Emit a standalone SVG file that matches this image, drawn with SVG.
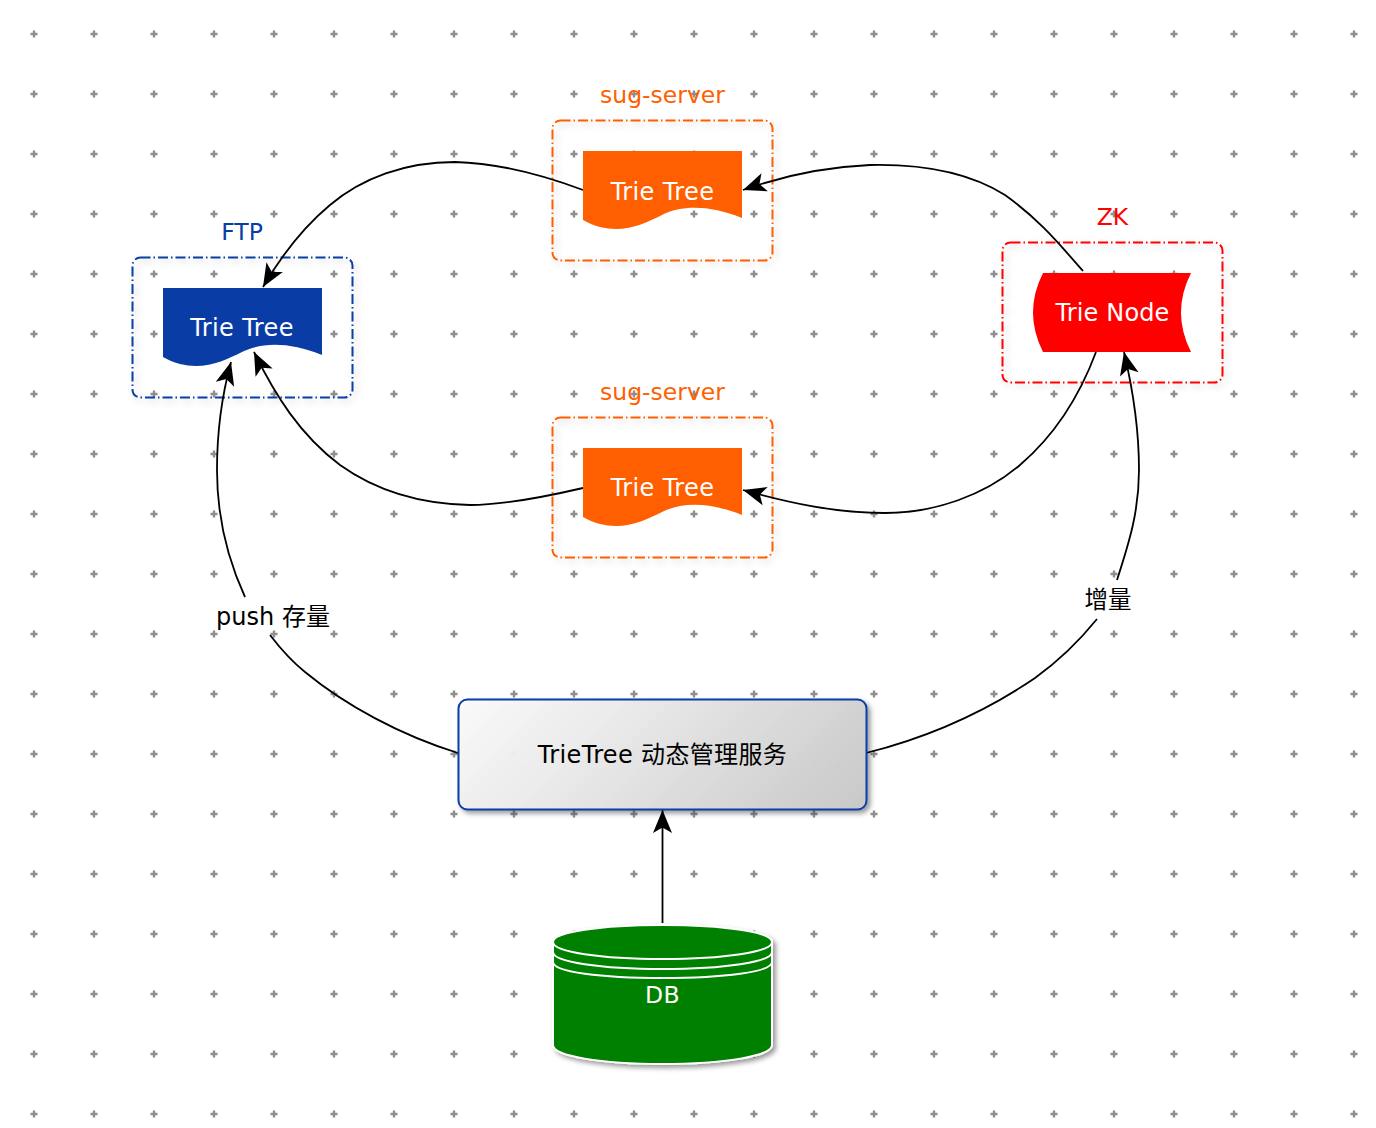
<svg xmlns="http://www.w3.org/2000/svg" width="1376" height="1128" viewBox="0 0 1376 1128">
<style>
text{font-family:"DejaVu Sans","Noto Sans CJK SC",sans-serif;font-size:24px;text-anchor:middle}
.w{fill:#fff;letter-spacing:.4px}
.s{font-size:23.5px}
.c{fill:none;stroke:#000;stroke-width:1.8}
.g{fill:none;stroke-width:2;stroke-dasharray:10 3 1.500 3;filter:url(#gs)}
.ring{fill:none;stroke:#fff;stroke-width:2}
</style>
<defs>
<pattern id="grid" width="60" height="60" patternUnits="userSpaceOnUse">
<path d="M30.500 34H37.500M34 30.500V37.500" stroke="#8f8f8f" stroke-width="2.400" fill="none"/>
</pattern>
<linearGradient id="boxg" gradientUnits="userSpaceOnUse" x1="533" y1="625" x2="792" y2="884"><stop offset="0" stop-color="#fcfcfc" stop-opacity=".95"/><stop offset="1" stop-color="#c8c8c8"/></linearGradient>
<filter id="gs" x="-10%" y="-10%" width="125%" height="125%"><feDropShadow dx="3" dy="3" stdDeviation="3.500" flood-color="#000" flood-opacity=".2"/></filter>
<filter id="ns" x="-10%" y="-10%" width="125%" height="125%"><feDropShadow dx="3" dy="3" stdDeviation="2.500" flood-color="#000" flood-opacity=".4"/></filter>
<marker id="arr" markerUnits="userSpaceOnUse" markerWidth="26" markerHeight="24" refX="24" refY="12" orient="auto"><path d="M24 12L1 2.500L6.500 12L1 21.500Z" fill="#000"/></marker>
</defs>
<rect width="1376" height="1128" fill="#fff"/>
<rect width="1376" height="1128" fill="url(#grid)"/>
<g id="group-ftp">
<rect class="g" x="132.500" y="257.500" width="220" height="140" rx="8" stroke="#0a3ca6"/>
<text class="s" x="242" y="240" fill="#0a3ca6">FTP</text>
</g>
<g id="group-sug1">
<rect class="g" x="552.500" y="120.500" width="220" height="140" rx="8" stroke="#ff5f00"/>
<text class="s" x="662.500" y="103" fill="#ff5f00">sug-server</text>
</g>
<g id="group-sug2">
<rect class="g" x="552.500" y="417.500" width="220" height="140" rx="8" stroke="#ff5f00"/>
<text class="s" x="662.500" y="400" fill="#ff5f00">sug-server</text>
</g>
<g id="group-zk">
<rect class="g" x="1002.500" y="242.500" width="220" height="140" rx="8" stroke="#ff0000"/>
<text class="s" x="1112.500" y="225" fill="#ff0000">ZK</text>
</g>
<g id="connectors">
<path class="c" marker-end="url(#arr)" d="M583 190C535 172 495 163 455 162C405 162 362 178 330 205C300 230 280 258 263 287"/>
<path class="c" marker-end="url(#arr)" d="M1083 271C1060 245 1040 220 1005 195C965 170 915 164 870 165C825 167 785 175 743 190"/>
<path class="c" marker-end="url(#arr)" d="M583 488C540 498 500 505 470 505C420 504 375 490 340 465C300 435 275 395 254 352"/>
<path class="c" marker-end="url(#arr)" d="M1096 352C1080 395 1055 435 1020 465C985 495 935 513 885 513C835 513 790 503 743 490"/>
<path class="c" d="M458 753C400 735 345 705 305 672C290 660 280 648 270 635"/>
<path class="c" marker-end="url(#arr)" d="M245 597C228 560 217 520 217 470C217 430 222 395 231 362"/>
<path class="c" d="M866 753C930 737 985 712 1035 678C1060 660 1080 640 1097 619"/>
<path class="c" marker-end="url(#arr)" d="M1117 580C1130 540 1139 510 1139 470C1139 430 1133 390 1124 352"/>
<path class="c" marker-end="url(#arr)" d="M662.500 923V810"/>
</g>
<g id="node-ftp-tree">
<path d="M163 288H322V355C290 342 262 342 242 352C222 362 195 375 163 357Z" fill="#0a3ca6"/>
<text class="w" x="242" y="336">Trie Tree</text>
</g>
<g id="node-sug1-tree">
<path d="M583 151H742V218C710 205 682 205 662 215C642 225 615 238 583 220Z" fill="#ff5f00"/>
<text class="w" x="662.500" y="200">Trie Tree</text>
</g>
<g id="node-sug2-tree">
<path d="M583 448H742V515C710 502 682 502 662 512C642 522 615 535 583 517Z" fill="#ff5f00"/>
<text class="w" x="662.500" y="496">Trie Tree</text>
</g>
<g id="node-zk">
<path d="M1043 273H1191Q1171 312.500 1191 352H1043Q1023 312.500 1043 273Z" fill="#ff0000"/>
<text class="w" x="1112.500" y="321" style="letter-spacing:.15px">Trie Node</text>
</g>
<g id="node-service">
<rect x="458.500" y="699.500" width="408" height="110" rx="9" fill="url(#boxg)" stroke="#0a3ca6" stroke-width="2" filter="url(#ns)"/>
<text x="662.500" y="763" fill="#000" style="letter-spacing:.35px">TrieTree 动态管理服务</text>
</g>
<g id="node-db">
<path d="M553 942C553 932 601 925 662.500 925C724 925 772 932 772 942V1045C772 1056 724 1064 662.500 1064C601 1064 553 1056 553 1045Z" fill="#008000" stroke="#fff" stroke-width="2" filter="url(#ns)"/>
<path class="ring" d="M553 942C553 952 601 959 662.500 959C724 959 772 952 772 942M553 952C553 962 601 969 662.500 969C724 969 772 962 772 952M553 962C553 972 601 978 662.500 978C724 978 772 972 772 962"/>
<text class="w s" x="662.500" y="1003">DB</text>
</g>
<g id="labels">
<text x="273" y="625" fill="#000">push 存量</text>
<text class="s" x="1108" y="608" fill="#000">增量</text>
</g>
</svg>
